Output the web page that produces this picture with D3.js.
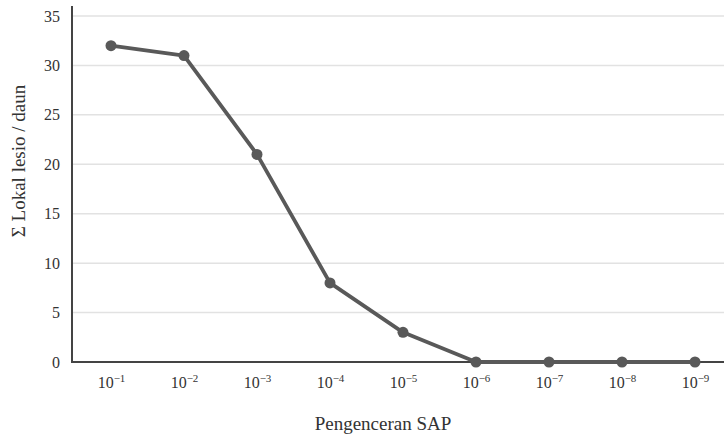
<!DOCTYPE html>
<html>
<head>
<meta charset="utf-8">
<script src="https://cdn.jsdelivr.net/npm/d3@7"></script>
<style>
  body { margin: 0; background: #fff; }
</style>
</head>
<body>
<div id="chart"></div>
<script>
var exponents = ["1", "2", "3", "4", "5", "6", "7", "8", "9"];
var lesions = [32, 31, 21, 8, 3, 0, 0, 0, 0];
var yTicks = [0, 5, 10, 15, 20, 25, 30, 35];

var svgWidth = 724, svgHeight = 437;
var plotLeft = 72, plotTop = 16, plotBottom = 362;
var serif = "'Times New Roman', 'Liberation Serif', 'DejaVu Serif', serif";
var textColor = "#333";

var svg = d3.select('#chart').append("svg")
  .attr("width", svgWidth)
  .attr("height", svgHeight)
  .attr("font-family", serif);

var x = d3.scalePoint()
  .domain(exponents)
  .range([111, 695]);
var y = d3.scaleLinear()
  .domain([0, 35])
  .range([plotBottom, plotTop]);

// gridlines
svg.append("g")
  .selectAll("line")
  .data(yTicks.filter(function(d) { return d > 0; }))
  .enter().append("line")
  .attr("x1", plotLeft)
  .attr("x2", svgWidth)
  .attr("y1", function(d) { return y(d); })
  .attr("y2", function(d) { return y(d); })
  .attr("stroke", "#e2e2e2")
  .attr("stroke-width", 1.5);

// y axis
var yAxis = svg.append("g")
  .attr("transform", "translate(" + plotLeft + ",0)")
  .call(d3.axisLeft(y).tickValues(yTicks).tickSize(0).tickPadding(12))
  .attr("font-family", serif);
yAxis.select(".domain").remove();
yAxis.selectAll("text").attr("font-size", 16).attr("fill", textColor);

svg.append("line")
  .attr("x1", plotLeft).attr("x2", plotLeft)
  .attr("y1", 6).attr("y2", plotBottom)
  .attr("stroke", "#444").attr("stroke-width", 2);

// x axis
var xAxis = svg.append("g")
  .attr("transform", "translate(0," + plotBottom + ")")
  .call(d3.axisBottom(x).tickSize(0).tickPadding(15).tickFormat(""))
  .attr("font-family", serif);
xAxis.select(".domain").remove();
xAxis.selectAll(".tick text").each(function(d) {
  var t = d3.select(this).attr("font-size", 16).attr("dy", "0.71em").attr("fill", textColor);
  t.append("tspan").text("10");
  t.append("tspan").attr("font-size", 11).attr("dy", "-0.55em").text("\u2212" + d);
});

svg.append("line")
  .attr("x1", plotLeft - 1).attr("x2", svgWidth)
  .attr("y1", plotBottom).attr("y2", plotBottom)
  .attr("stroke", "#444").attr("stroke-width", 2);

// axis titles
svg.append("text")
  .attr("x", 383).attr("y", 430)
  .attr("text-anchor", "middle")
  .attr("font-size", 19)
  .attr("fill", textColor)
  .text("Pengenceran SAP");

svg.append("text")
  .attr("transform", "translate(25,161) rotate(-90)")
  .attr("text-anchor", "middle")
  .attr("font-size", 19)
  .attr("fill", textColor)
  .text("\u03A3  Lokal lesio / daun");

// series
var line = d3.line()
  .x(function(d, i) { return x(exponents[i]); })
  .y(function(d) { return y(d); });

svg.append("path")
  .datum(lesions)
  .attr("fill", "none")
  .attr("stroke", "#595959")
  .attr("stroke-width", 3.8)
  .attr("stroke-linejoin", "round")
  .attr("d", line);

svg.append("g")
  .selectAll("circle")
  .data(lesions)
  .enter().append("circle")
  .attr("cx", function(d, i) { return x(exponents[i]); })
  .attr("cy", function(d) { return y(d); })
  .attr("r", 5.5)
  .attr("fill", "#595959");
</script>
</body>
</html>
